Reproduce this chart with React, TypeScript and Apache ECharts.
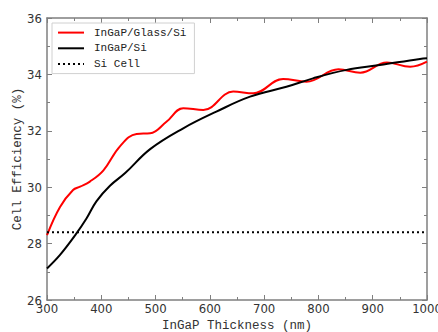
import React, { useEffect, useRef } from "react";
import * as echarts from "echarts";

const glassX = [300, 324, 348, 361, 379, 404, 434, 465, 490, 520, 551, 588, 643, 680, 735, 778, 837, 877, 926, 969, 1000];
const glassY = [28.3, 29.3, 29.9, 30.02, 30.2, 30.6, 31.44, 31.89, 31.91, 32.32, 32.8, 32.74, 33.39, 33.33, 33.84, 33.74, 34.18, 34.06, 34.42, 34.27, 34.45];
const siX = [300, 324, 352, 373, 391, 416, 444, 490, 551, 612, 674, 741, 790, 852, 913, 987, 1000];
const siY = [27.12, 27.6, 28.3, 28.9, 29.5, 30.05, 30.5, 31.35, 32.09, 32.68, 33.21, 33.56, 33.86, 34.16, 34.33, 34.55, 34.57];
const cellX = [300, 1000];
const cellY = [28.4, 28.4];
const seriesNames = ["InGaP/Glass/Si", "InGaP/Si", "Si Cell"];

const zip = (xs: number[], ys: number[]) => xs.map((x, i) => [x, ys[i]]);

export default function App() {
  const ref = useRef<HTMLDivElement>(null);
  useEffect(() => {
    const chart = echarts.init(ref.current!, null, { renderer: "svg" });
    const mono = "'Liberation Mono', 'DejaVu Sans Mono', monospace";
    const narrow = "'Liberation Sans Narrow', 'DejaVu Sans Condensed', 'Liberation Sans', sans-serif";
    const axisLine = { show: true, lineStyle: { color: "#7f7f7f", width: 1.5 } };
    const tick = { show: true, inside: true, length: 5, lineStyle: { color: "#7f7f7f", width: 1 } };
    const minor = { show: true, splitNumber: 2, length: 3, lineStyle: { color: "#7f7f7f", width: 1 } };
    const plain = (v: number) => String(v);
    chart.setOption({
      animation: false,
      backgroundColor: "#fff",
      grid: { left: 47, right: 11, top: 18, bottom: 32, containLabel: false, outerBoundsMode: "none" },
      legend: {
        left: 52,
        top: 23,
        orient: "vertical",
        data: seriesNames,
        backgroundColor: "#fff",
        borderColor: "#d0d0d0",
        borderWidth: 1,
        padding: [4, 8, 4, 5],
        itemGap: 4.5,
        itemWidth: 26,
        itemHeight: 14,
        itemStyle: { opacity: 0 },
        textStyle: { fontFamily: mono, fontSize: 11, color: "#222", padding: [0, 0, 0, 5] },
      },
      xAxis: [
        {
          type: "value", min: 300, max: 1000, interval: 100,
          axisLine, axisTick: tick, minorTick: minor, splitLine: { show: false },
          axisLabel: { fontFamily: narrow, fontSize: 13, color: "#333", margin: 2, formatter: plain },
          name: "InGaP Thickness (nm)", nameLocation: "middle", nameGap: 19,
          nameTextStyle: { fontFamily: mono, fontSize: 12.5, color: "#333" },
        },
        {
          type: "value", position: "top", min: 300, max: 1000, interval: 100,
          axisLine, axisTick: tick, minorTick: minor, splitLine: { show: false },
          axisLabel: { show: false },
        },
      ],
      yAxis: [
        {
          type: "value", min: 26, max: 36, interval: 2,
          axisLine, axisTick: tick, minorTick: minor, splitLine: { show: false },
          axisLabel: { fontFamily: narrow, fontSize: 13, color: "#333", margin: 5, formatter: plain },
          name: "Cell Efficiency (%)", nameLocation: "middle", nameGap: 23, nameMoveOverlap: false,
          nameTextStyle: { fontFamily: mono, fontSize: 12.5, color: "#333" },
        },
        {
          type: "value", position: "right", min: 26, max: 36, interval: 2,
          axisLine, axisTick: tick, minorTick: minor, splitLine: { show: false },
          axisLabel: { show: false },
        },
      ],
      series: [
        {
          name: seriesNames[0], type: "line", data: zip(glassX, glassY), smooth: 0.4,
          symbol: "none", lineStyle: { color: "#ff0000", width: 2 }, itemStyle: { color: "#ff0000" },
        },
        {
          name: seriesNames[1], type: "line", data: zip(siX, siY), smooth: 0.4,
          symbol: "none", lineStyle: { color: "#000", width: 2 }, itemStyle: { color: "#000" },
        },
        {
          name: seriesNames[2], type: "line", data: zip(cellX, cellY),
          symbol: "none", lineStyle: { color: "#000", width: 2, type: [2, 3] }, itemStyle: { color: "#000" },
        },
      ],
    });
    return () => chart.dispose();
  }, []);
  return <div ref={ref} style={{ width: 438, height: 332, position: "absolute", left: 0, top: 0 }} />;
}
